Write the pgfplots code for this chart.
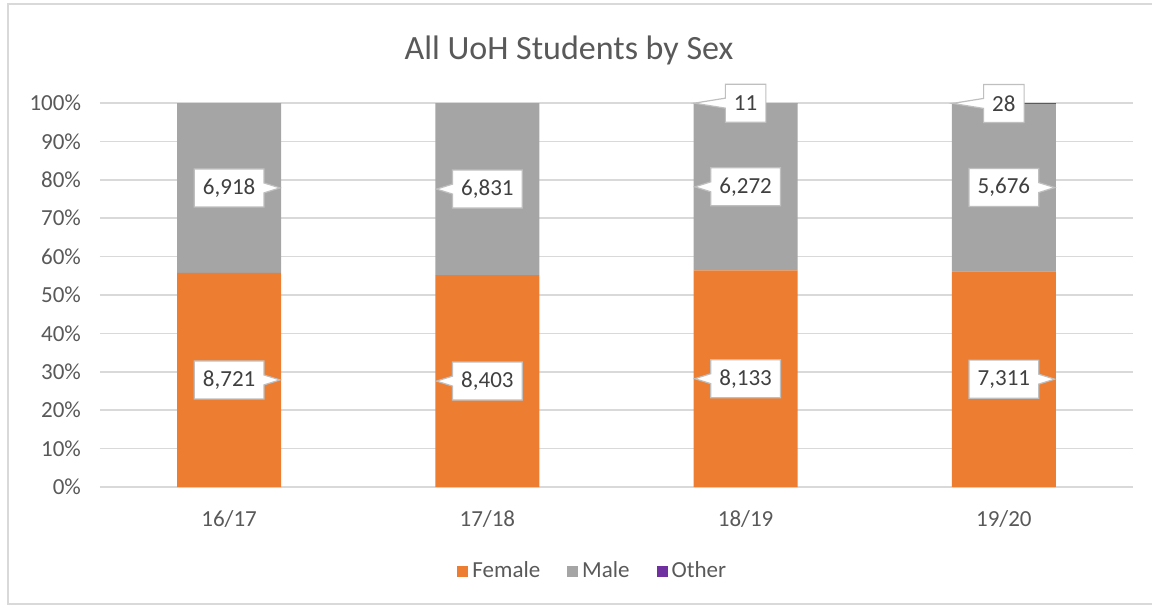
\documentclass[border=0pt]{standalone}
\usepackage{fontspec}
\setmainfont{Carlito}
\usepackage{pgfplots}
\pgfplotsset{compat=1.18}
\usepackage{pgfplotstable}
\usetikzlibrary{shapes.callouts}

\definecolor{female}{HTML}{ED7D31}
\definecolor{male}{HTML}{A5A5A5}
\definecolor{other}{HTML}{7030A0}
\definecolor{gridgray}{HTML}{D9D9D9}
\definecolor{txt}{HTML}{595959}
\definecolor{lbl}{HTML}{404040}
\definecolor{lblframe}{HTML}{BFBFBF}

% student counts per year; dF/dM/dO = side the label pointer goes (-1 left, 1 right)
\pgfplotstableread{
x F    M    O  dF dM dO
0 8721 6918 0  1  1  -1
1 8403 6831 0  -1 -1 -1
2 8133 6272 11 -1 -1 -1
3 7311 5676 28 1  1  -1
}\students

\pgfplotsset{
  uoh frame/.style={
    at={(50pt,60pt)}, anchor=south west,
    scale only axis, width=516.5pt, height=192pt,
    xmin=-0.5, xmax=3.5, ymin=0, ymax=100,
  },
  % #1 = direction column, #2 = how far the pointer sticks out of the box
  callout label/.style 2 args={
    draw=none, mark=none,
    point meta=explicit,
    nodes near coords={\pgfmathprintnumber[fixed,precision=0,1000 sep={,},assume math mode=true]{\pgfplotspointmeta}},
    visualization depends on={\thisrow{#1} \as \dir},
    every node near coord/.append style={
      anchor=center, shape=rectangle callout, fill=white, draw=lblframe, line width=0.6pt,
      text=lbl, font=\fontsize{11.5}{13}\selectfont,
      inner xsep=4.3pt, inner ysep=0pt, minimum height=19pt,
      callout pointer width=5pt,
      callout relative pointer={(\dir*#2,0pt)}
    },
  },
}

\begin{document}
\begin{tikzpicture}
\useasboundingbox (0,0) rectangle (576pt,303.5pt);
\draw[gridgray, line width=0.75pt] (576pt,301.5pt) -- (4pt,301.5pt) -- (4pt,1.5pt) -- (576pt,1.5pt);
\node[text=txt, font=\fontsize{17}{20}\selectfont] at (284.5pt,278.5pt) {All UoH Students by Sex};

\begin{axis}[uoh frame,
    ybar stacked, bar width=52pt,
    axis line style={draw=none},
    tick style={draw=none},
    ymajorgrids, grid style={gridgray, line width=0.75pt},
    ytick={0,10,...,100},
    yticklabel={\pgfmathprintnumber[assume math mode=true]{\tick}\%},
    xtick={0,1,2,3},
    xticklabels={16/17,17/18,18/19,19/20},
    tick label style={text=txt, font=\fontsize{11.5}{13}\selectfont},
    x tick label style={yshift=-8pt},
    y tick label style={xshift=-6pt},
    legend columns=-1,
    legend style={at={(0.478,-0.219)}, anchor=center, draw=none, fill=none,
      text=txt, font=\fontsize{11.5}{13}\selectfont,
      /tikz/every even column/.append style={column sep=11.5pt}},
    legend image code/.code={\fill[#1] (0pt,-2.75pt) rectangle (5.5pt,2.75pt);},
  ]
\addplot[fill=female, draw=none] table[x=x, y expr={\thisrow{F}/(\thisrow{F}+\thisrow{M}+\thisrow{O})*100}] {\students};
\addlegendentry{Female}
\addplot[fill=male, draw=none] table[x=x, y expr={\thisrow{M}/(\thisrow{F}+\thisrow{M}+\thisrow{O})*100}] {\students};
\addlegendentry{Male}
\addplot[fill=other, draw=none] table[x=x, y expr={\thisrow{O}/(\thisrow{F}+\thisrow{M}+\thisrow{O})*100}] {\students};
\addlegendentry{Other}
\end{axis}

\begin{axis}[uoh frame, hide axis, clip=false]
\addplot[callout label={dF}{8pt}] table[x=x, meta=F,
  y expr={(\thisrow{F}/2)/(\thisrow{F}+\thisrow{M}+\thisrow{O})*100}] {\students};
\addplot[callout label={dM}{8pt}] table[x=x, meta=M,
  y expr={(\thisrow{F}+\thisrow{M}/2)/(\thisrow{F}+\thisrow{M}+\thisrow{O})*100}] {\students};
\addplot[callout label={dO}{15.5pt}, skip coords between index={0}{2}] table[x=x, meta=O,
  y expr={(\thisrow{F}+\thisrow{M}+\thisrow{O}/2)/(\thisrow{F}+\thisrow{M}+\thisrow{O})*100}] {\students};
\end{axis}
\end{tikzpicture}
\end{document}
